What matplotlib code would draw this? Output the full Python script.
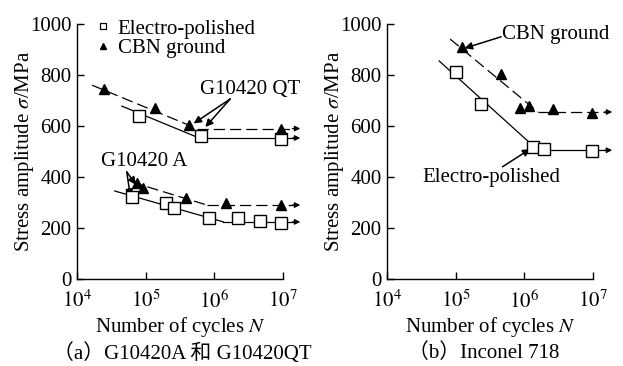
import matplotlib
matplotlib.use("Agg")
import matplotlib.pyplot as plt
from matplotlib.lines import Line2D

plt.rcParams['font.family'] = ['Liberation Serif', 'Noto Sans CJK SC']
plt.rcParams['mathtext.fontset'] = 'stix'
plt.rcParams['font.size'] = 15

# ---- (a) G10420 steel ----
qt_ep_n = [8.0e4, 6.3e5, 9.5e6]
qt_ep_s = [640, 560, 550]
qt_cbn_n = [2.5e4, 1.37e5, 4.3e5, 9.5e6]
qt_cbn_s = [745, 672, 602, 590]

a_ep_n = [6.3e4, 2.0e5, 2.6e5, 8.3e5, 2.2e6, 4.6e6, 9.5e6]
a_ep_s = [321, 298, 278, 239, 239, 228, 220]
a_cbn_n = [7.4e4, 9.1e4, 3.9e5, 1.5e6, 9.5e6]
a_cbn_s = [376, 357, 318, 298, 290]

# fitted S-N lines (start, knee, run-out end)
qt_ep_line_n = [4.5e4, 6.0e5, 1.78e7]
qt_ep_line_s = [678, 553, 553]
qt_cbn_line_n = [1.66e4, 5.6e5, 1.78e7]
qt_cbn_line_s = [760, 590, 590]
a_ep_line_n = [3.55e4, 1.35e6, 1.78e7]
a_ep_line_s = [345, 224, 224]
a_cbn_line_n = [6.3e4, 7.8e5, 1.78e7]
a_cbn_line_s = [380, 290, 290]

# ---- (b) Inconel 718 ----
in_ep_n = [1.0e5, 2.35e5, 1.32e6, 1.9e6, 9.5e6]
in_ep_s = [810, 685, 518, 508, 502]
in_cbn_n = [1.23e5, 4.6e5, 8.7e5, 1.17e6, 2.6e6, 9.5e6]
in_cbn_s = [908, 805, 672, 680, 665, 652]
in_ep_line_n = [5.75e4, 1.58e6, 1.9e7]
in_ep_line_s = [855, 505, 505]
in_cbn_line_n = [8.3e4, 1.58e6, 1.9e7]
in_cbn_line_s = [941, 655, 655]

x_ticks = [1e4, 1e5, 1e6, 1e7]
x_labels = ['$10^{4}$', '$10^{5}$', '$10^{6}$', '$10^{7}$']
y_ticks = [0, 200, 400, 600, 800, 1000]

fig = plt.figure(figsize=(6.23, 3.66), dpi=100)
ax1 = fig.add_axes([0.1236, 0.2377, 0.3307, 0.6967])
ax2 = fig.add_axes([0.6212, 0.2377, 0.3307, 0.6967])

dash = (9, 4)


def style_axes(ax):
    ax.set_xscale('log')
    ax.set_xlim(1e4, 1e7)
    ax.set_ylim(0, 1000)
    ax.set_xticks(x_ticks)
    ax.set_xticklabels(x_labels)
    ax.minorticks_off()
    ax.set_yticks(y_ticks)
    ax.tick_params(direction='in', length=5, width=1)
    ax.tick_params(axis='x', pad=8)
    ax.tick_params(axis='y', pad=4)
    for s in ['top', 'right']:
        ax.spines[s].set_visible(False)
    for s in ['left', 'bottom']:
        ax.spines[s].set_linewidth(1.0)
    ax.set_xlabel('Number of cycles $N$', labelpad=2)
    ax.set_ylabel(r'Stress amplitude $\sigma$/MPa', labelpad=-4)


def sn_line(ax, n, s, dashed):
    kw = dict(color='black', lw=0.9, clip_on=False)
    if dashed:
        ax.plot(n[:-1], s[:-1], dashes=dash, **kw)
        ax.plot([n[-2], n[-1] / 1.25], s[-2:], dashes=dash, **kw)
    else:
        ax.plot(n[:-1], s[:-1], **kw)
        ax.plot([n[-2], n[-1] / 1.25], s[-2:], **kw)
    ax.annotate('', xy=(n[-1], s[-1]), xytext=(n[-1] / 1.3, s[-1]),
                arrowprops=dict(arrowstyle='-|>', color='black', lw=0.9,
                                mutation_scale=8, shrinkA=0, shrinkB=0),
                annotation_clip=False)


def pts(ax, n, s, kind):
    if kind == 'sq':
        ax.plot(n, s, 's', ms=8.5, mfc='white', mec='black', mew=1.0, clip_on=False, zorder=5)
    else:
        ax.plot(n, s, '^', ms=7, mfc='black', mec='black', clip_on=False, zorder=5)


arrow_kw = dict(arrowstyle='-|>', color='black', lw=1.1, mutation_scale=11,
                shrinkA=0, shrinkB=0)

# panel (a)
style_axes(ax1)
sn_line(ax1, qt_ep_line_n, qt_ep_line_s, False)
sn_line(ax1, qt_cbn_line_n, qt_cbn_line_s, True)
sn_line(ax1, a_ep_line_n, a_ep_line_s, False)
sn_line(ax1, a_cbn_line_n, a_cbn_line_s, True)
pts(ax1, qt_ep_n, qt_ep_s, 'sq')
pts(ax1, qt_cbn_n, qt_cbn_s, 'tri')
pts(ax1, a_ep_n, a_ep_s, 'sq')
pts(ax1, a_cbn_n, a_cbn_s, 'tri')

ax1.text(3.3e6, 745, 'G10420 QT', ha='center', va='center')
ax1.annotate('', xy=(5.0e5, 610), xytext=(1.7e6, 706), arrowprops=arrow_kw)
ax1.annotate('', xy=(7.4e5, 596), xytext=(1.7e6, 706), arrowprops=arrow_kw)
ax1.text(9.5e4, 460, 'G10420 A', ha='center', va='center')
ax1.annotate('', xy=(7.2e4, 370), xytext=(5.3e4, 420), arrowprops=arrow_kw)
ax1.annotate('', xy=(6.0e4, 322), xytext=(5.3e4, 420), arrowprops=arrow_kw)

handles = [Line2D([], [], ls='none', marker='s', ms=5, mfc='white', mec='black', mew=0.9),
           Line2D([], [], ls='none', marker='^', ms=5, mfc='black', mec='black')]
ax1.legend(handles, ['Electro-polished', 'CBN ground'], loc='upper left',
           bbox_to_anchor=(0.045, 1.06), frameon=False, handlelength=0.6,
           handletextpad=0.4, borderpad=0, labelspacing=0.0, fontsize=15)

# panel (b)
style_axes(ax2)
sn_line(ax2, in_ep_line_n, in_ep_line_s, False)
sn_line(ax2, in_cbn_line_n, in_cbn_line_s, True)
pts(ax2, in_ep_n, in_ep_s, 'sq')
pts(ax2, in_cbn_n, in_cbn_s, 'tri')

ax2.text(4.8e5, 957, 'CBN ground', ha='left', va='center')
ax2.annotate('', xy=(1.35e5, 905), xytext=(4.6e5, 950), arrowprops=arrow_kw)
ax2.text(3.3e5, 400, 'Electro-polished', ha='center', va='center')
ax2.annotate('', xy=(1.22e6, 510), xytext=(4.8e5, 440), arrowprops=arrow_kw)

fig.text(0.292, 0.035, '（a）G10420A 和 G10420QT', ha='center', va='center', fontsize=15)
fig.text(0.777, 0.035, '（b）Inconel 718', ha='center', va='center', fontsize=15)

fig.savefig('out.png', dpi=100)
